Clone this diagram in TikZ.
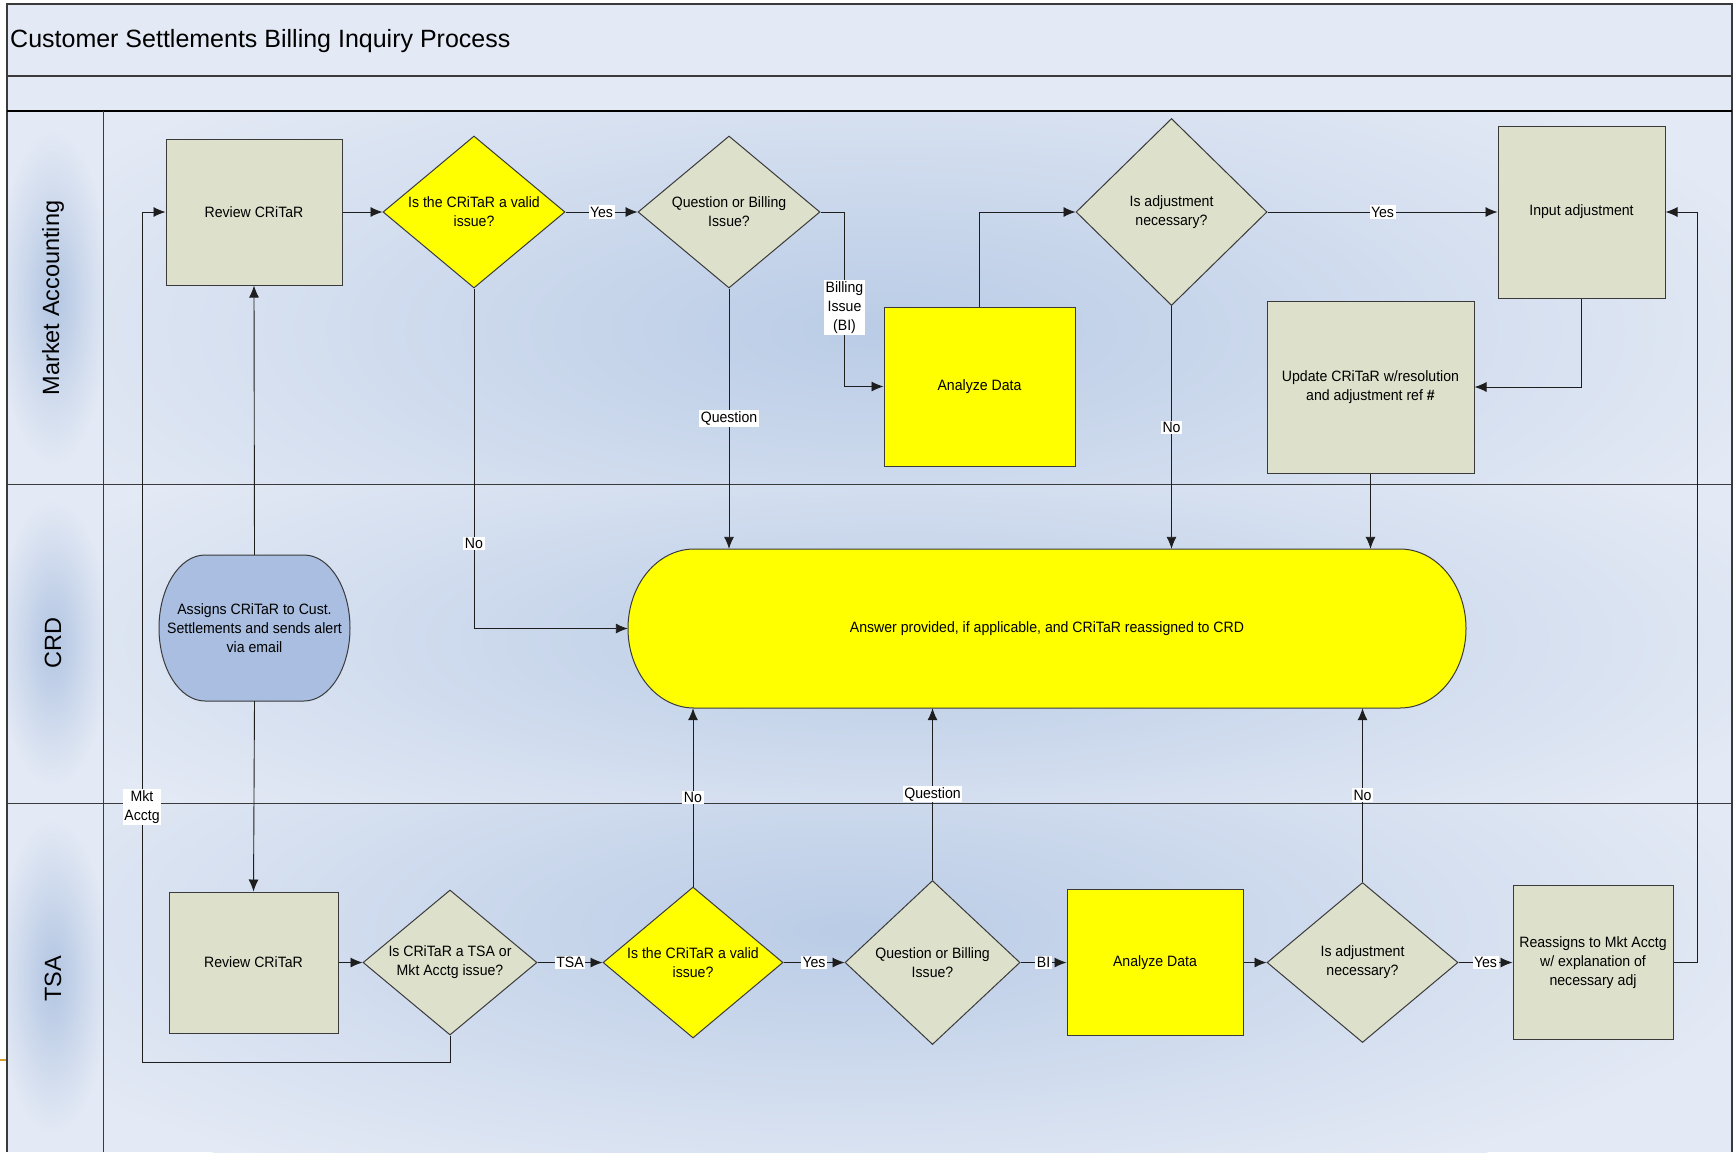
\documentclass[tikz,border=0pt]{standalone}
\usepackage{fontspec}
\setmainfont{Liberation Sans}
\newfontfamily\condfont[FakeStretch=0.94]{Liberation Sans}
\usetikzlibrary{arrows.meta,shapes.geometric}

\definecolor{nodegray}{HTML}{DDE1CB}
\definecolor{nodeblue}{HTML}{A9BEE0}
\definecolor{ylw}{RGB}{255,255,0}
\definecolor{bglight}{HTML}{E4EAF5}
\definecolor{bgdark}{HTML}{BACCE6}
\definecolor{hdrdark}{HTML}{B2C5E2}
\definecolor{edgecol}{HTML}{3A3A3A}
\definecolor{linecol}{HTML}{1E1E1E}
\definecolor{ticko}{HTML}{D9A030}

\begin{document}
\begin{tikzpicture}[x=1pt,y=-1pt,
  every node/.style={font=\condfont\fontsize{15}{19}\selectfont},
  box/.style={draw=edgecol, line width=1pt, fill=nodegray, rectangle, inner sep=0pt, align=center},
  ybox/.style={box, fill=ylw},
  dia/.style={draw=edgecol, line width=1pt, fill=nodegray, diamond, inner sep=0pt},
  ydia/.style={dia, fill=ylw},
  txt/.style={align=center, inner sep=0pt},
  lbl/.style={fill=white, inner sep=1.5pt, align=center},
  flow/.style={draw=linecol, line width=0.9pt, -{Latex[length=12pt,width=10pt]}},
  lanelabel/.style={font=\rmfamily\fontsize{23.5}{28}\selectfont, rotate=90, inner sep=0pt},
]
\useasboundingbox (0,0) rectangle (1734,1152);

% ---------- background ----------
\fill[white] (0,0) rectangle (1734,1152);
\fill[bglight] (7,4) rectangle (1732,1152);
\begin{scope}
  \clip (103,111) rectangle (1732,484);
  \shade[inner color=bgdark, outer color=bglight] (880,330) ellipse [x radius=950pt, y radius=330pt];
\end{scope}
\begin{scope}
  \clip (103,484) rectangle (1732,803);
  \shade[inner color=bgdark, outer color=bglight] (900,640) ellipse [x radius=950pt, y radius=260pt];
\end{scope}
\begin{scope}
  \clip (103,803) rectangle (1732,1152);
  \shade[inner color=bgdark, outer color=bglight] (850,930) ellipse [x radius=950pt, y radius=300pt];
\end{scope}
% lane header blurs
\begin{scope}
  \clip (7,111) rectangle (103,484);
  \shade[inner color=hdrdark, outer color=bglight] (53,298) ellipse [x radius=58pt, y radius=170pt];
\end{scope}
\begin{scope}
  \clip (7,484) rectangle (103,803);
  \shade[inner color=hdrdark, outer color=bglight] (53,643) ellipse [x radius=58pt, y radius=145pt];
\end{scope}
\begin{scope}
  \clip (7,803) rectangle (103,1152);
  \shade[inner color=hdrdark, outer color=bglight] (53,977) ellipse [x radius=58pt, y radius=160pt];
\end{scope}

% ---------- frame ----------
\draw[edgecol, line width=1.5pt] (7,1152) -- (7,4) -- (1732,4) -- (1732,1152);
\draw[edgecol, line width=1.2pt] (7,76) -- (1732,76);
\draw[black, line width=2pt] (7,111) -- (1732,111);
\draw[edgecol, line width=1pt] (103,111) -- (103,1152);
\draw[edgecol, line width=1pt] (7,484) -- (1732,484);
\draw[edgecol, line width=1pt] (7,803) -- (1732,803);
\draw[ticko, line width=2pt] (0,1060) -- (6,1060);

% ---------- title and lane labels ----------
\node[anchor=base west, inner sep=0pt, font=\rmfamily\fontsize{25}{30}\selectfont] (title) at (10,47) {Customer Settlements Billing Inquiry Process};
\node[lanelabel] (laneMA) at (53,298) {Market Accounting};
\node[lanelabel] (laneCRD) at (53,643) {CRD};
\node[lanelabel] (laneTSA) at (53,979) {TSA};

% ---------- Market Accounting lane ----------
\node[box, minimum width=176pt, minimum height=146pt] (rMA) at (254,212) {Review CRiTaR};
\node[ydia, minimum width=182pt, minimum height=152pt] (vMA) at (474,212) {};
\node[txt] (vMAt) at (vMA) {Is the CRiTaR a valid\\issue?};
\node[dia, minimum width=182pt, minimum height=152pt] (qMA) at (729,212) {};
\node[txt] (qMAt) at (qMA) {Question or Billing\\Issue?};
\node[ybox, minimum width=191pt, minimum height=159pt] (aMA) at (979.5,386.5) {Analyze Data};
\node[dia, minimum width=191pt, minimum height=187pt] (jMA) at (1171.5,212) {};
\node[txt] (jMAt) at (jMA) {Is adjustment\\necessary?};
\node[box, minimum width=167pt, minimum height=172pt] (inp) at (1581.5,212) {Input adjustment};
\node[box, minimum width=207pt, minimum height=172pt] (upd) at (1370.5,387) {Update CRiTaR w/resolution\\and adjustment ref {\bfseries\#}};

% ---------- CRD lane ----------
\filldraw[draw=edgecol, line width=1pt, fill=nodeblue]
  (205,555) -- (304,555) .. controls (329.4,555) and (350,587.7) .. (350,628)
  .. controls (350,668.3) and (329.4,701) .. (304,701) -- (205,701)
  .. controls (179.6,701) and (159,668.3) .. (159,628)
  .. controls (159,587.7) and (179.6,555) .. cycle;
\node[inner sep=0pt, minimum width=191pt, minimum height=146pt, align=center] (asg) at (254.5,628)
  {Assigns CRiTaR to Cust.\\Settlements and sends alert\\via email};

\filldraw[draw=edgecol, line width=1pt, fill=ylw]
  (694,549) -- (1400,549) .. controls (1436.5,549) and (1466,584.6) .. (1466,628.5)
  .. controls (1466,672.4) and (1436.5,708) .. (1400,708) -- (694,708)
  .. controls (657.5,708) and (628,672.4) .. (628,628.5)
  .. controls (628,584.6) and (657.5,549) .. cycle;
\node[inner sep=0pt, minimum width=838pt, minimum height=159pt] (ans) at (1047,628.5)
  {Answer provided, if applicable, and CRiTaR reassigned to CRD};

% ---------- TSA lane ----------
\node[box, minimum width=169pt, minimum height=141pt] (rTSA) at (253.5,962.5) {Review CRiTaR};
\node[dia, minimum width=174pt, minimum height=145pt] (tDia) at (450,962.5) {};
\node[txt] (tDiat) at (tDia) {Is CRiTaR a TSA or\\Mkt Acctg issue?};
\node[ydia, minimum width=180pt, minimum height=151pt] (vTSA) at (693,962.5) {};
\node[txt] (vTSAt) at (vTSA) {Is the CRiTaR a valid\\issue?};
\node[dia, minimum width=175pt, minimum height=164pt] (qTSA) at (932.5,962.5) {};
\node[txt] (qTSAt) at (qTSA) {Question or Billing\\Issue?};
\node[ybox, minimum width=176pt, minimum height=146pt] (aTSA) at (1155,962.5) {Analyze Data};
\node[dia, minimum width=191pt, minimum height=160pt] (jTSA) at (1362.5,962.5) {};
\node[txt] (jTSAt) at (jTSA) {Is adjustment\\necessary?};
\node[box, minimum width=160pt, minimum height=154pt] (reas) at (1593,962.5) {Reassigns to Mkt Acctg\\w/ explanation of\\necessary adj};

\coordinate (mk) at (142,212);

% ---------- connectors ----------
\draw[flow] (rMA.east) -- (vMA.west);
\draw[flow] (vMA.east) -- node[lbl]{Yes} (qMA.west);
\draw[flow] (qMA.east) -- ++(24,0) |- node[lbl, pos=0.275]{Billing\\Issue\\(BI)} (aMA.west);
\draw[flow] (aMA.north) |- (jMA.west);
\draw[flow] (jMA.east) -- node[lbl]{Yes} (inp.west);
\draw[flow] (inp.south) |- (upd.east);
\draw[flow] (upd.south) -- (upd.south |- ans.north);
\draw[flow] (jMA.south) -- node[lbl]{No} (jMA.south |- ans.north);
\draw[flow] (qMA.south) -- node[lbl]{Question} (qMA.south |- ans.north);
\draw[flow] (vMA.south) |- node[lbl, pos=0.375]{No} (ans.west);
\draw[flow] (asg.north) -- (rMA.south);
\draw[flow] (asg.south) -- (rTSA.north);
\draw[flow] (rTSA.east) -- (tDia.west);
\draw[flow] (tDia.east) -- node[lbl]{TSA} (vTSA.west);
\draw[flow] (vTSA.east) -- node[lbl]{Yes} (qTSA.west);
\draw[flow] (qTSA.east) -- node[lbl]{BI} (aTSA.west);
\draw[flow] (aTSA.east) -- (jTSA.west);
\draw[flow] (jTSA.east) -- node[lbl]{Yes} (reas.west);
\draw[flow] (reas.east) -- ++(24,0) |- (inp.east);
\draw[flow] (vTSA.north) -- node[lbl]{No} (vTSA.north |- ans.south);
\draw[flow] (qTSA.north) -- node[lbl]{Question} (qTSA.north |- ans.south);
\draw[flow] (jTSA.north) -- node[lbl]{No} (jTSA.north |- ans.south);
\draw[flow] (tDia.south) -- ++(0,27) -| node[lbl, pos=0.65]{Mkt\\Acctg} (mk) -- (rMA.west);
\end{tikzpicture}
\end{document}
